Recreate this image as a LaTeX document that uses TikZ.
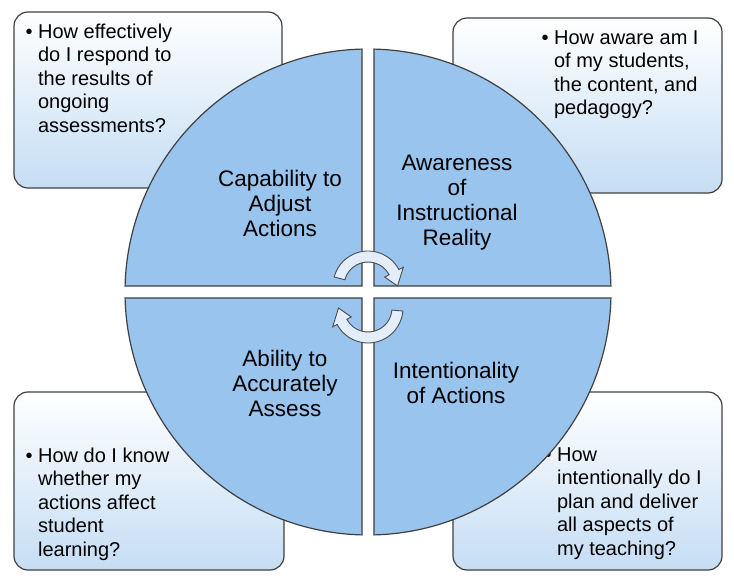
\documentclass[tikz,border=0pt]{standalone}
\usepackage{fontspec}
\setmainfont{Liberation Sans}
\usetikzlibrary{calc}
\definecolor{boxblue}{RGB}{197,221,244}
\definecolor{quadblue}{RGB}{152,196,238}
\definecolor{cycfill}{RGB}{228,238,250}
\begin{document}
\begin{tikzpicture}[x=1pt,y=1pt,
  qbox/.style={draw=black!75,line width=1.2pt,rounded corners=14pt,top color=white,bottom color=boxblue},
  quad/.style={draw=black!75,line width=1.2pt,fill=quadblue},
  qtext/.style={align=center,font=\fontsize{22.5}{25}\selectfont},
  btext/.style={align=left,anchor=north west,font=\fontsize{20}{23.5}\selectfont},
  cyc/.style={draw=black!70,line width=0.9pt,fill=cycfill}]
\useasboundingbox (0,0) rectangle (734,582);
\fill[white] (0,0) rectangle (734,582);
\draw[qbox] (14,394) rectangle (282,570);
\draw[qbox] (453,389) rectangle (722,564);
\draw[qbox] (14,12) rectangle (284,190);
\draw[qbox] (453,12) rectangle (722,190);
\node[btext] (t1) at (22,562) {\textbullet\ How effectively\\\phantom{\textbullet\ }do I respond to\\\phantom{\textbullet\ }the results of\\\phantom{\textbullet\ }ongoing\\\phantom{\textbullet\ }assessments?};
\node[btext] (t2) at (538,555) {\textbullet\ How aware am I\\\phantom{\textbullet\ }of my students,\\\phantom{\textbullet\ }the content, and\\\phantom{\textbullet\ }pedagogy?};
\node[btext] (t3) at (22,138) {\textbullet\ How do I know\\\phantom{\textbullet\ }whether my\\\phantom{\textbullet\ }actions affect\\\phantom{\textbullet\ }student\\\phantom{\textbullet\ }learning?};
\node[btext] (t4) at (541,138) {\textbullet\ How\\\phantom{\textbullet\ }intentionally do I\\\phantom{\textbullet\ }plan and deliver\\\phantom{\textbullet\ }all aspects of\\\phantom{\textbullet\ }my teaching?};
\coordinate (c) at (368,290);
\def\R{243}
\draw[quad] (362,296) -- ($(c)+(91.4:\R)$) arc[start angle=91.4,end angle=178.6,radius=\R] -- cycle;
\draw[quad] (374,296) -- ($(c)+(88.6:\R)$) arc[start angle=88.6,end angle=1.4,radius=\R] -- cycle;
\draw[quad] (362,284) -- ($(c)+(268.6:\R)$) arc[start angle=268.6,end angle=181.4,radius=\R] -- cycle;
\draw[quad] (374,284) -- ($(c)+(271.4:\R)$) arc[start angle=271.4,end angle=358.6,radius=\R] -- cycle;
\node[qtext] (q1) at (280,379) {Capability to\\Adjust\\Actions};
\node[qtext] (q2) at (457,379) {Awareness\\of\\Instructional\\Reality};
\node[qtext] (q3) at (285,199) {Ability to\\Accurately\\Assess};
\node[qtext] (q4) at (456,199) {Intentionality\\of Actions};
\coordinate (a1) at (368,296);
\draw[cyc] ($(a1)+(165:35)$) arc[start angle=165,end angle=28,radius=35] -- ($(a1)+(28:40)$) -- ($(a1)+(0:29.5)$) -- ($(a1)+(28:19)$) -- ($(a1)+(28:24)$) arc[start angle=28,end angle=165,radius=24] -- cycle;
\coordinate (a2) at (368,274);
\draw[cyc] ($(a2)+(-5:35)$) arc[start angle=-5,end angle=-152,radius=35] -- ($(a2)+(-152:40)$) -- ($(a2)+(-180:29.5)$) -- ($(a2)+(-152:19)$) -- ($(a2)+(-152:24)$) arc[start angle=-152,end angle=-5,radius=24] -- cycle;
\end{tikzpicture}
\end{document}
